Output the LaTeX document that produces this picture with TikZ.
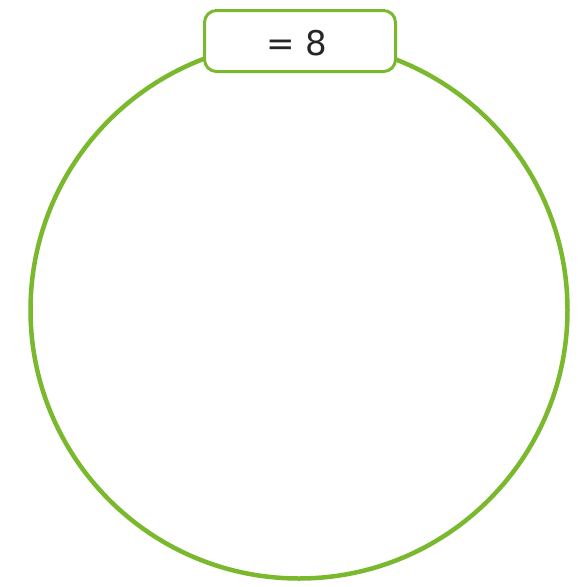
\documentclass[tikz,border=0pt]{standalone}
\usepackage{fontspec}
\setmainfont{DejaVu Sans}
\usepackage{xcolor}
\definecolor{mygreen}{HTML}{7AB82E}
\usepackage{tikz}

\begin{document}
\begin{tikzpicture}[x=1pt,y=-1pt]
      \useasboundingbox (0,0) rectangle (579,587);
      \coordinate (c0) at (299,310);
      \draw[mygreen, line width=4.5pt] (c0) circle [radius=268.5];
      \node[draw=mygreen, fill=white, line width=3pt, rounded corners=12pt,
            minimum width=191pt, minimum height=61pt, inner sep=0pt]
            (box) at (300,41) {};
      \node[font=\fontsize{34}{40}\selectfont, text=black!85] (val) at (297,43) {= 8};
    \end{tikzpicture}
\end{document}
